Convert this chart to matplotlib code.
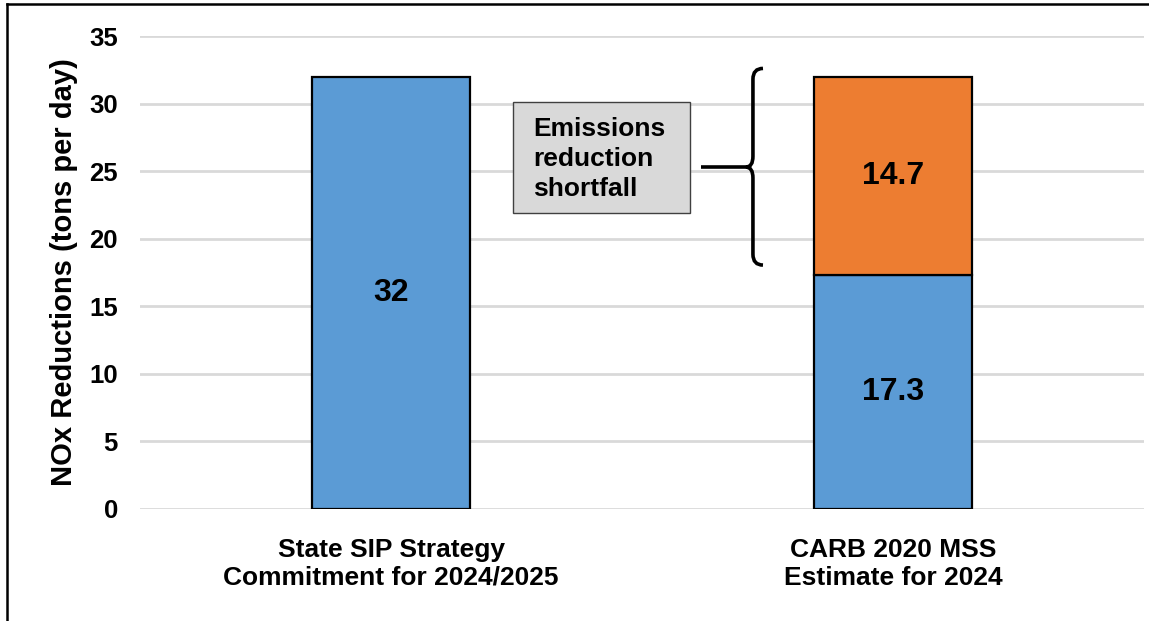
import numpy as np
import matplotlib.pyplot as plt
from matplotlib.path import Path
from matplotlib.patches import PathPatch, Rectangle
from matplotlib.lines import Line2D

plt.rcParams.update({
    "font.family": "Liberation Sans",
    "font.weight": "bold",
})

categories = ["State SIP Strategy\nCommitment for 2024/2025", "CARB 2020 MSS\nEstimate for 2024"]
achieved = [32, 17.3]
shortfall = [0, 14.7]
y_ticks = [0, 5, 10, 15, 20, 25, 30, 35]

blue = "#5b9bd5"
orange = "#ed7d31"

fig = plt.figure(figsize=(11.49, 6.21), dpi=100)
ax = fig.add_axes([140 / 1149, 1 - 509 / 621, 1004 / 1149, 473 / 621])

x = np.arange(len(categories))
width = 0.315
ax.bar(x, achieved, width, color=blue, edgecolor="black", linewidth=1.6, zorder=3)
ax.bar(x[1:], shortfall[1:], width, bottom=achieved[1:], color=orange,
       edgecolor="black", linewidth=1.6, zorder=3)

# value labels centered in each segment
for i, v in enumerate(achieved):
    ax.text(x[i], v / 2, f"{v:g}", ha="center", va="center", fontsize=23, fontweight="bold", zorder=4)
for i, v in enumerate(shortfall):
    if v > 0:
        ax.text(x[i], achieved[i] + v / 2, f"{v:g}", ha="center", va="center",
                fontsize=23, fontweight="bold", zorder=4)

ax.set_xlim(-0.5, 1.5)
ax.set_ylim(0, 35)
ax.set_yticks(y_ticks)
ax.set_xticks(x)
ax.set_xticklabels(categories, fontsize=19, fontweight="bold", linespacing=1.2)
ax.tick_params(axis="y", labelsize=18.5, length=0, pad=16)
ax.tick_params(axis="x", length=0, pad=21)
for lbl in ax.get_yticklabels():
    lbl.set_fontweight("bold")
ax.grid(axis="y", color="#d9d9d9", linewidth=2, zorder=0)
for s in ax.spines.values():
    s.set_visible(False)
ax.set_ylabel("NOx Reductions (tons per day)", fontsize=21, fontweight="bold", labelpad=8)

# curly brace spanning the shortfall segment
top = achieved[1] + shortfall[1] + 0.6
bot = achieved[1] + 0.75
mid = 25.3
xv, xe, xt = 0.721, 0.741, 0.707
ry = 0.8
verts = [
    (xe, top), (xv, top), (xv, top - ry),
    (xv, mid + ry), (xv, mid), (xt, mid),
    (xv, mid), (xv, mid - ry),
    (xv, bot + ry), (xv, bot), (xe, bot),
]
codes = [Path.MOVETO, Path.CURVE3, Path.CURVE3,
         Path.LINETO, Path.CURVE3, Path.CURVE3,
         Path.CURVE3, Path.CURVE3,
         Path.LINETO, Path.CURVE3, Path.CURVE3]
ax.add_patch(PathPatch(Path(verts, codes), fill=False, edgecolor="black", linewidth=2.6,
                       zorder=5, clip_on=False))
ax.plot([0.617, xt], [mid, mid], color="black", linewidth=2.6, zorder=5, solid_capstyle="butt")

# callout box
bx0, bx1 = (513 - 391) / 501, (689 - 391) / 501
by0, by1 = (509 - 213) / (473 / 35), (509 - 102) / (473 / 35)
ax.add_patch(Rectangle((bx0, by0), bx1 - bx0, by1 - by0, facecolor="#d9d9d9",
                       edgecolor="#404040", linewidth=1.0, zorder=4))
ax.text((533 - 391) / 501, (by0 + by1) / 2 - 0.1, "Emissions\nreduction\nshortfall",
        ha="left", va="center", fontsize=19, fontweight="bold", linespacing=1.3, zorder=5)

# frame around the figure
fig.add_artist(Line2D([6.5 / 1149, 6.5 / 1149], [0, 1 - 4.3 / 621], color="black", linewidth=1.8,
                      transform=fig.transFigure))
fig.add_artist(Line2D([6.5 / 1149, 1], [1 - 4.3 / 621, 1 - 4.3 / 621], color="black", linewidth=1.8,
                      transform=fig.transFigure))

fig.savefig("out.png", dpi=100)
